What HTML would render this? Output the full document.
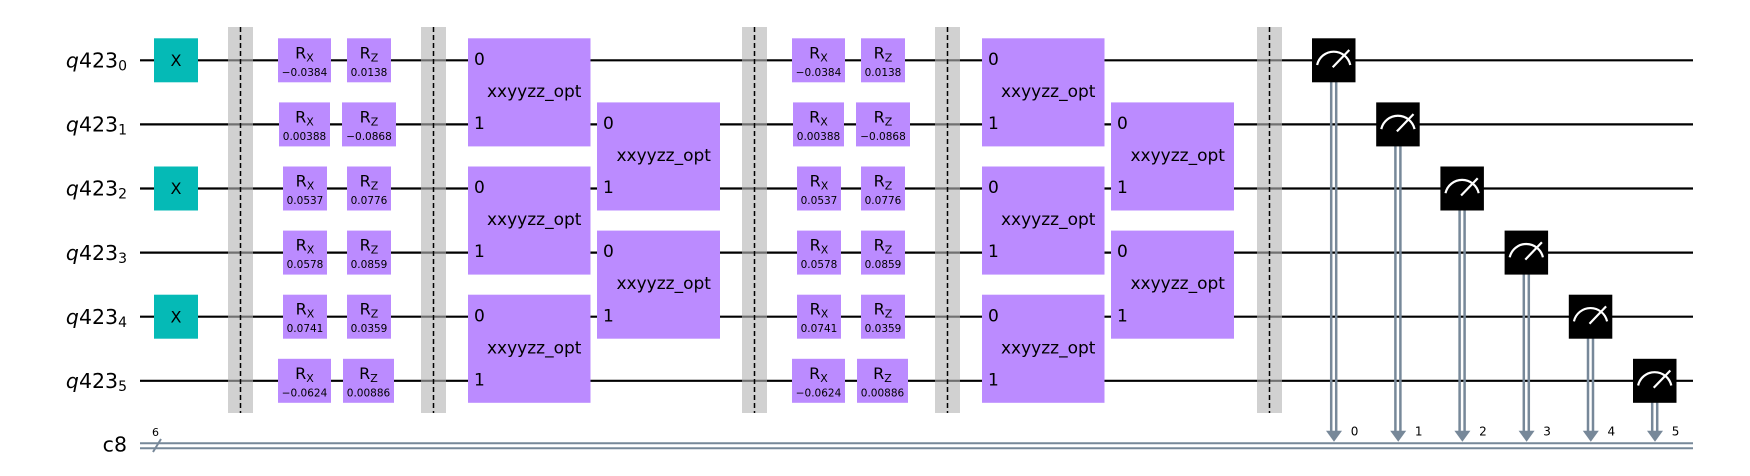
<!DOCTYPE html>
<html><head><meta charset="utf-8"><style>
html,body{margin:0;padding:0;background:#fff;}
svg{display:block;}
text{font-family:"DejaVu Sans","Liberation Sans",sans-serif;fill:#000;}
</style></head><body>
<svg width="1750" height="476" viewBox="0 0 1750 476" xmlns="http://www.w3.org/2000/svg">
<rect width="1750" height="476" fill="#fff"/>
<!-- wires -->
<g stroke="#000" stroke-width="2.2">
<line x1="140" y1="60.3" x2="1693" y2="60.3"/>
<line x1="140" y1="124.4" x2="1693" y2="124.4"/>
<line x1="140" y1="188.5" x2="1693" y2="188.5"/>
<line x1="140" y1="252.6" x2="1693" y2="252.6"/>
<line x1="140" y1="316.7" x2="1693" y2="316.7"/>
<line x1="140" y1="380.8" x2="1693" y2="380.8"/>
</g>
<g stroke="#778899" stroke-width="2">
<line x1="140" y1="443.3" x2="1693" y2="443.3"/>
<line x1="140" y1="448.3" x2="1693" y2="448.3"/>
<line x1="153" y1="452" x2="161" y2="439"/>
</g>
<text x="152" y="436" font-size="11">6</text>
<!-- labels -->
<g font-size="20.5" text-anchor="end">
<text x="127" y="67.5"><tspan font-style="italic">q</tspan>423<tspan font-size="14" dy="3">0</tspan></text>
<text x="127" y="131.6"><tspan font-style="italic">q</tspan>423<tspan font-size="14" dy="3">1</tspan></text>
<text x="127" y="195.7"><tspan font-style="italic">q</tspan>423<tspan font-size="14" dy="3">2</tspan></text>
<text x="127" y="259.8"><tspan font-style="italic">q</tspan>423<tspan font-size="14" dy="3">3</tspan></text>
<text x="127" y="323.9"><tspan font-style="italic">q</tspan>423<tspan font-size="14" dy="3">4</tspan></text>
<text x="127" y="388"><tspan font-style="italic">q</tspan>423<tspan font-size="14" dy="3">5</tspan></text>
<text x="127" y="451.7">c8</text>
</g>
<!-- X gates -->
<g fill="#05bab6">
<rect x="154" y="38.3" width="44" height="44"/>
<rect x="154" y="166.5" width="44" height="44"/>
<rect x="154" y="294.7" width="44" height="44"/>
</g>
<g font-size="16" text-anchor="middle">
<text x="176" y="66">X</text>
<text x="176" y="194.2">X</text>
<text x="176" y="322.4">X</text>
</g>
<!-- barriers -->
<g fill="rgba(180,180,180,0.62)">
<rect x="228" y="27" width="25" height="386"/>
<rect x="421" y="27" width="25" height="386"/>
<rect x="742" y="27" width="25" height="386"/>
<rect x="935" y="27" width="25" height="386"/>
<rect x="1257" y="27" width="25" height="386"/>
</g>
<g stroke="#000" stroke-width="1.5" stroke-dasharray="5,3">
<line x1="240.5" y1="27" x2="240.5" y2="413"/>
<line x1="433.5" y1="27" x2="433.5" y2="413"/>
<line x1="754.5" y1="27" x2="754.5" y2="413"/>
<line x1="947.5" y1="27" x2="947.5" y2="413"/>
<line x1="1269.5" y1="27" x2="1269.5" y2="413"/>
</g>
<!-- R gates boxes -->
<g fill="#bb8bff">
<rect x="278" y="38.3" width="53" height="44"/><rect x="347" y="38.3" width="44" height="44"/>
<rect x="279" y="102.4" width="51" height="44"/><rect x="342" y="102.4" width="54" height="44"/>
<rect x="283" y="166.5" width="44" height="44"/><rect x="347" y="166.5" width="44" height="44"/>
<rect x="283" y="230.6" width="44" height="44"/><rect x="347" y="230.6" width="44" height="44"/>
<rect x="283" y="294.7" width="44" height="44"/><rect x="347" y="294.7" width="44" height="44"/>
<rect x="278" y="358.8" width="53" height="44"/><rect x="343" y="358.8" width="51" height="44"/>
<rect x="792" y="38.3" width="53" height="44"/><rect x="861" y="38.3" width="44" height="44"/>
<rect x="793" y="102.4" width="51" height="44"/><rect x="856" y="102.4" width="54" height="44"/>
<rect x="797" y="166.5" width="44" height="44"/><rect x="861" y="166.5" width="44" height="44"/>
<rect x="797" y="230.6" width="44" height="44"/><rect x="861" y="230.6" width="44" height="44"/>
<rect x="797" y="294.7" width="44" height="44"/><rect x="861" y="294.7" width="44" height="44"/>
<rect x="792" y="358.8" width="53" height="44"/><rect x="857" y="358.8" width="51" height="44"/>
<!-- xxyyzz -->
<rect x="468" y="38.3" width="122.5" height="108.1"/>
<rect x="468" y="166.5" width="122.5" height="108.1"/>
<rect x="468" y="294.7" width="122.5" height="108.1"/>
<rect x="597" y="102.4" width="123" height="108.1"/>
<rect x="597" y="230.6" width="123" height="108.1"/>
<rect x="982" y="38.3" width="122.5" height="108.1"/>
<rect x="982" y="166.5" width="122.5" height="108.1"/>
<rect x="982" y="294.7" width="122.5" height="108.1"/>
<rect x="1111" y="102.4" width="123" height="108.1"/>
<rect x="1111" y="230.6" width="123" height="108.1"/>
</g>
<!-- R gate labels -->
<g text-anchor="middle">
<g font-size="16">
<text x="304.5" y="58.3">R<tspan font-size="11" dy="3">X</tspan></text><text x="369" y="58.3">R<tspan font-size="11" dy="3">Z</tspan></text>
<text x="304.5" y="122.4">R<tspan font-size="11" dy="3">X</tspan></text><text x="369" y="122.4">R<tspan font-size="11" dy="3">Z</tspan></text>
<text x="305" y="186.5">R<tspan font-size="11" dy="3">X</tspan></text><text x="369" y="186.5">R<tspan font-size="11" dy="3">Z</tspan></text>
<text x="305" y="250.6">R<tspan font-size="11" dy="3">X</tspan></text><text x="369" y="250.6">R<tspan font-size="11" dy="3">Z</tspan></text>
<text x="305" y="314.7">R<tspan font-size="11" dy="3">X</tspan></text><text x="369" y="314.7">R<tspan font-size="11" dy="3">Z</tspan></text>
<text x="304.5" y="378.8">R<tspan font-size="11" dy="3">X</tspan></text><text x="368.5" y="378.8">R<tspan font-size="11" dy="3">Z</tspan></text>
<text x="818.5" y="58.3">R<tspan font-size="11" dy="3">X</tspan></text><text x="883" y="58.3">R<tspan font-size="11" dy="3">Z</tspan></text>
<text x="818.5" y="122.4">R<tspan font-size="11" dy="3">X</tspan></text><text x="883" y="122.4">R<tspan font-size="11" dy="3">Z</tspan></text>
<text x="819" y="186.5">R<tspan font-size="11" dy="3">X</tspan></text><text x="883" y="186.5">R<tspan font-size="11" dy="3">Z</tspan></text>
<text x="819" y="250.6">R<tspan font-size="11" dy="3">X</tspan></text><text x="883" y="250.6">R<tspan font-size="11" dy="3">Z</tspan></text>
<text x="819" y="314.7">R<tspan font-size="11" dy="3">X</tspan></text><text x="883" y="314.7">R<tspan font-size="11" dy="3">Z</tspan></text>
<text x="818.5" y="378.8">R<tspan font-size="11" dy="3">X</tspan></text><text x="882.5" y="378.8">R<tspan font-size="11" dy="3">Z</tspan></text>
</g>
<g font-size="10.5">
<text x="304.5" y="75.8">−0.0384</text><text x="369" y="75.8">0.0138</text>
<text x="304.5" y="139.9">0.00388</text><text x="369" y="139.9">−0.0868</text>
<text x="305" y="204">0.0537</text><text x="369" y="204">0.0776</text>
<text x="305" y="268.1">0.0578</text><text x="369" y="268.1">0.0859</text>
<text x="305" y="332.2">0.0741</text><text x="369" y="332.2">0.0359</text>
<text x="304.5" y="396.3">−0.0624</text><text x="368.5" y="396.3">0.00886</text>
<text x="818.5" y="75.8">−0.0384</text><text x="883" y="75.8">0.0138</text>
<text x="818.5" y="139.9">0.00388</text><text x="883" y="139.9">−0.0868</text>
<text x="819" y="204">0.0537</text><text x="883" y="204">0.0776</text>
<text x="819" y="268.1">0.0578</text><text x="883" y="268.1">0.0859</text>
<text x="819" y="332.2">0.0741</text><text x="883" y="332.2">0.0359</text>
<text x="818.5" y="396.3">−0.0624</text><text x="882.5" y="396.3">0.00886</text>
</g>
</g>
<!-- xxyyzz labels -->
<g font-size="17">
<text x="474" y="65">0</text><text x="474" y="129">1</text><text x="487" y="97">xxyyzz_opt</text>
<text x="474" y="193.2">0</text><text x="474" y="257.2">1</text><text x="487" y="225.2">xxyyzz_opt</text>
<text x="474" y="321.4">0</text><text x="474" y="385.4">1</text><text x="487" y="353.4">xxyyzz_opt</text>
<text x="603" y="129">0</text><text x="603" y="193.2">1</text><text x="616.5" y="161">xxyyzz_opt</text>
<text x="603" y="257.2">0</text><text x="603" y="321.4">1</text><text x="616.5" y="289.2">xxyyzz_opt</text>
<text x="988" y="65">0</text><text x="988" y="129">1</text><text x="1001" y="97">xxyyzz_opt</text>
<text x="988" y="193.2">0</text><text x="988" y="257.2">1</text><text x="1001" y="225.2">xxyyzz_opt</text>
<text x="988" y="321.4">0</text><text x="988" y="385.4">1</text><text x="1001" y="353.4">xxyyzz_opt</text>
<text x="1117" y="129">0</text><text x="1117" y="193.2">1</text><text x="1130.5" y="161">xxyyzz_opt</text>
<text x="1117" y="257.2">0</text><text x="1117" y="321.4">1</text><text x="1130.5" y="289.2">xxyyzz_opt</text>
</g>
<!-- measurements: classical lines -->
<g stroke="#778899" stroke-width="2.5">
<line x1="1331.2" y1="80" x2="1331.2" y2="432"/><line x1="1336.2" y1="80" x2="1336.2" y2="432"/>
<line x1="1395.4" y1="144" x2="1395.4" y2="432"/><line x1="1400.4" y1="144" x2="1400.4" y2="432"/>
<line x1="1459.6" y1="208" x2="1459.6" y2="432"/><line x1="1464.6" y1="208" x2="1464.6" y2="432"/>
<line x1="1523.8" y1="272" x2="1523.8" y2="432"/><line x1="1528.8" y1="272" x2="1528.8" y2="432"/>
<line x1="1588" y1="336" x2="1588" y2="432"/><line x1="1593" y1="336" x2="1593" y2="432"/>
<line x1="1652.2" y1="400" x2="1652.2" y2="432"/><line x1="1657.2" y1="400" x2="1657.2" y2="432"/>
</g>
<g fill="#778899">
<polygon points="1326,430.7 1342,430.7 1334,441.7"/>
<polygon points="1390.2,430.7 1406.2,430.7 1398.2,441.7"/>
<polygon points="1454.4,430.7 1470.4,430.7 1462.4,441.7"/>
<polygon points="1518.6,430.7 1534.6,430.7 1526.6,441.7"/>
<polygon points="1582.8,430.7 1598.8,430.7 1590.8,441.7"/>
<polygon points="1647,430.7 1663,430.7 1655,441.7"/>
</g>
<g font-size="12">
<text x="1350.7" y="435.7">0</text>
<text x="1414.9" y="435.7">1</text>
<text x="1479.1" y="435.7">2</text>
<text x="1543.3" y="435.7">3</text>
<text x="1607.5" y="435.7">4</text>
<text x="1671.7" y="435.7">5</text>
</g>
<!-- measure boxes -->
<g fill="#000">
<rect x="1312" y="38.3" width="43.5" height="44"/>
<rect x="1376.2" y="102.4" width="43.5" height="44"/>
<rect x="1440.4" y="166.5" width="43.5" height="44"/>
<rect x="1504.6" y="230.6" width="43.5" height="44"/>
<rect x="1568.8" y="294.7" width="43.5" height="44"/>
<rect x="1633" y="358.8" width="43.5" height="44"/>
</g>
<g stroke="#fff" stroke-width="2.2" fill="none">
<g transform="translate(1333.7,60.3)"><path d="M-16.6,4.7 A17,17 0 0 1 16.6,4.7"/><line x1="-1" y1="7" x2="15.6" y2="-10.3"/></g>
<g transform="translate(1397.9,124.4)"><path d="M-16.6,4.7 A17,17 0 0 1 16.6,4.7"/><line x1="-1" y1="7" x2="15.6" y2="-10.3"/></g>
<g transform="translate(1462.1,188.5)"><path d="M-16.6,4.7 A17,17 0 0 1 16.6,4.7"/><line x1="-1" y1="7" x2="15.6" y2="-10.3"/></g>
<g transform="translate(1526.3,252.6)"><path d="M-16.6,4.7 A17,17 0 0 1 16.6,4.7"/><line x1="-1" y1="7" x2="15.6" y2="-10.3"/></g>
<g transform="translate(1590.5,316.7)"><path d="M-16.6,4.7 A17,17 0 0 1 16.6,4.7"/><line x1="-1" y1="7" x2="15.6" y2="-10.3"/></g>
<g transform="translate(1654.7,380.8)"><path d="M-16.6,4.7 A17,17 0 0 1 16.6,4.7"/><line x1="-1" y1="7" x2="15.6" y2="-10.3"/></g>
</g>
</svg>
</body></html>
